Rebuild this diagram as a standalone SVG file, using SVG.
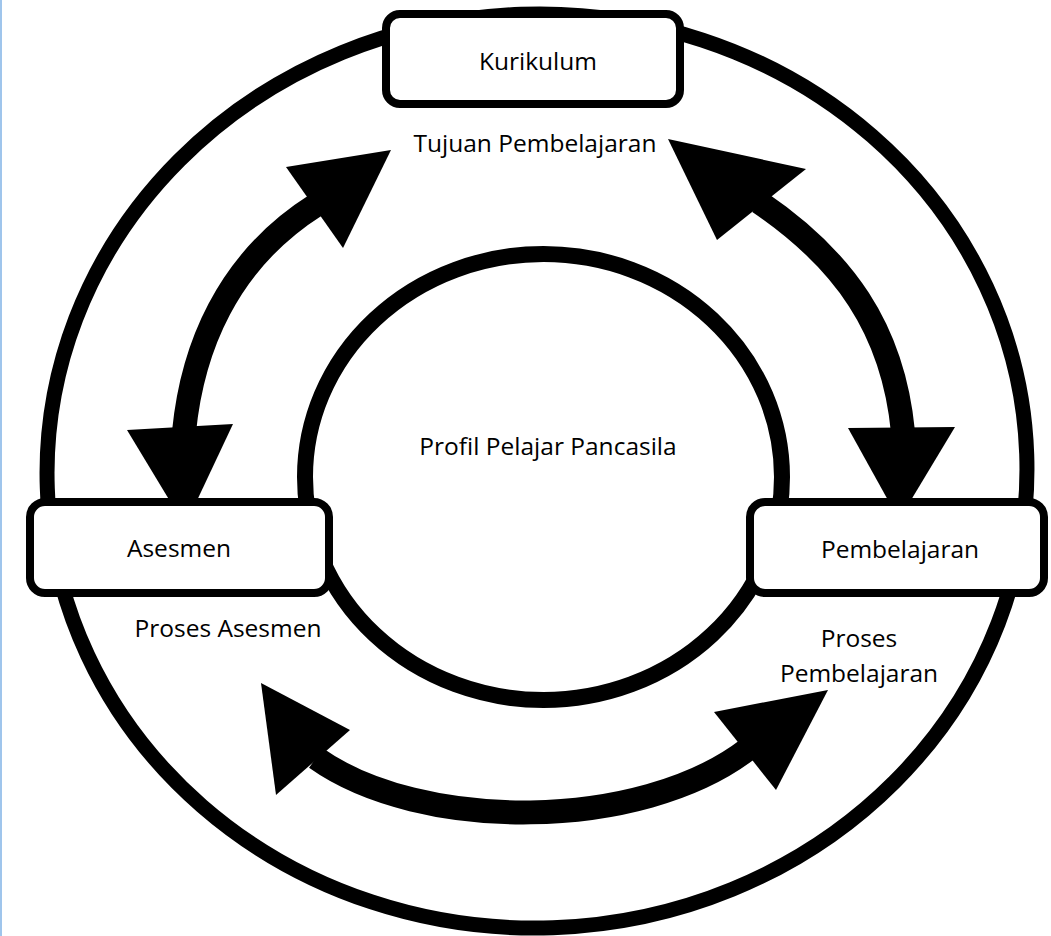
<svg xmlns="http://www.w3.org/2000/svg" width="1051" height="936" viewBox="0 0 1051 936">
<style>
.ring{fill:none;stroke:#000}
.box{fill:#fff;stroke:#000;stroke-width:8}
.shaft{fill:none;stroke:#000;stroke-width:24}
.head{fill:#000}
text{font-family:"Open Sans","Noto Sans",sans-serif;font-size:24.5px;fill:#000;text-anchor:middle}
</style>
<rect x="0" y="0" width="1051" height="936" fill="#fff"/>
<rect x="0" y="0" width="2" height="936" fill="#9fc5ec"/>
<g id="rings">
<ellipse class="ring" cx="537" cy="471" rx="490" ry="457" stroke-width="15" transform="rotate(-2 537 471)"/>
<ellipse class="ring" cx="543.5" cy="477" rx="238.5" ry="223" stroke-width="16"/>
</g>
<g id="connectors">
<path class="shaft" d="M184,432 C192,350 226,262 316,205"/>
<polygon class="head" points="391,150 286,167 343,248"/>
<polygon class="head" points="127,430 233,424 185,526"/>
<path class="shaft" d="M759,202 C843,259 893,328 903,432"/>
<polygon class="head" points="668,139 806,169 717,240"/>
<polygon class="head" points="848,428 955,427 899,520"/>
<path class="shaft" d="M316,758 C420,832 640,832 748,749"/>
<polygon class="head" points="261,683 350,730 276,795"/>
<polygon class="head" points="828,690 714,712 776,790"/>
</g>
<g id="node-kurikulum">
<rect class="box" x="386" y="14" width="294" height="90" rx="14"/>
<text x="538" y="70">Kurikulum</text>
</g>
<g id="label-tujuan">
<text x="535" y="152">Tujuan Pembelajaran</text>
</g>
<g id="node-profil">
<text x="548" y="455">Profil Pelajar Pancasila</text>
</g>
<g id="node-asesmen">
<rect class="box" x="30" y="502" width="299" height="91" rx="15"/>
<text x="179" y="557">Asesmen</text>
</g>
<g id="label-proses-asesmen">
<text x="228" y="637">Proses Asesmen</text>
</g>
<g id="node-pembelajaran">
<rect class="box" x="750" y="502" width="294" height="91" rx="15"/>
<text x="900" y="558">Pembelajaran</text>
</g>
<g id="label-proses-pembelajaran">
<text x="859" y="647">Proses</text>
<text x="859" y="682">Pembelajaran</text>
</g>
</svg>
